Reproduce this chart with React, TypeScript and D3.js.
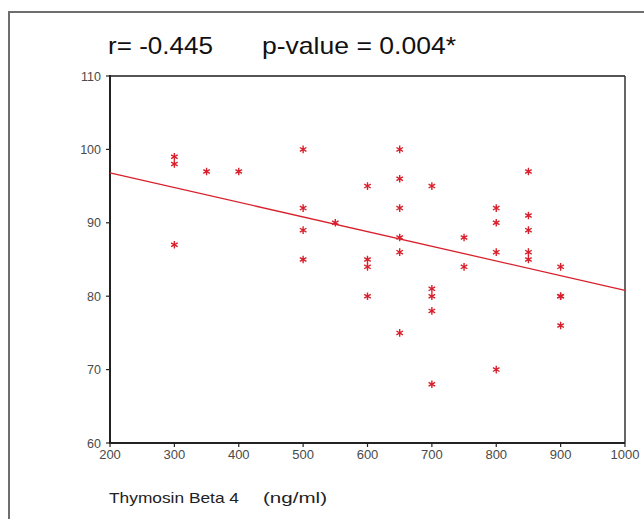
import * as d3 from 'd3';

// x = Thymosin Beta 4 (ng/ml), y = value
const xValues = [
  300, 300, 300,
  350,
  400,
  500, 500, 500, 500,
  550,
  600, 600, 600, 600,
  650, 650, 650, 650, 650, 650,
  700, 700, 700, 700, 700,
  750, 750,
  800, 800, 800, 800,
  850, 850, 850, 850, 850,
  900, 900, 900, 900,
];
const yValues = [
  99, 98, 87,
  97,
  97,
  100, 92, 89, 85,
  90,
  95, 85, 84, 80,
  100, 96, 92, 88, 86, 75,
  95, 81, 80, 78, 68,
  88, 84,
  92, 90, 86, 70,
  97, 91, 89, 86, 85,
  84, 80, 80, 76,
];

// fitted line end points
const fitX = [200, 1000];
const fitY = [96.8, 80.8];

const xTicks = [200, 300, 400, 500, 600, 700, 800, 900, 1000];
const yTicks = [60, 70, 80, 90, 100, 110];

const statR = 'r= -0.445';
const statP = 'p-value = 0.004*';
const xLabel = 'Thymosin Beta 4';
const xUnit = '(ng/ml)';

export default function App() {
  const width = 644;
  const height = 519;
  const left = 110;
  const right = 625;
  const top = 76;
  const bottom = 443;

  const x = d3.scaleLinear().domain([200, 1000]).range([left, right]);
  const y = d3.scaleLinear().domain([60, 110]).range([bottom, top]);

  const star = d3.symbol().type(d3.symbolAsterisk).size(40);
  const fit = d3
    .line<number>()
    .x((_, i) => x(fitX[i]))
    .y((v) => y(v));

  const red = '#d8202c';
  const font = 'Arial, "Liberation Sans", sans-serif';

  return (
    <svg
      width={width}
      height={height}
      viewBox={`0 0 ${width} ${height}`}
      style={{ position: 'absolute', left: 0, top: 0, background: '#fff' }}
      fontFamily={font}
    >
      {/* outer frame */}
      <path d={`M9,${height} V12 H${width}`} fill="none" stroke="#6e6e6e" strokeWidth={2} />

      <text x={108} y={54} fontSize={24} fill="#111" textLength={105} lengthAdjust="spacingAndGlyphs">
        {statR}
      </text>
      <text x={262} y={54} fontSize={24} fill="#111" textLength={194} lengthAdjust="spacingAndGlyphs">
        {statP}
      </text>

      {/* plot box */}
      <line x1={left} x2={right} y1={top} y2={top} stroke="#555" strokeWidth={2} />
      <line x1={right} x2={right} y1={top} y2={bottom} stroke="#333" strokeWidth={1.5} />
      <line x1={left} x2={left} y1={top - 1} y2={bottom + 1} stroke="#222" strokeWidth={2} />
      <line x1={left - 1} x2={right} y1={bottom} y2={bottom} stroke="#222" strokeWidth={2} />

      {yTicks.map((t) => (
        <g key={t} transform={`translate(0,${y(t)})`}>
          <line x1={left - 4} x2={left} stroke="#222" strokeWidth={1.2} />
          <text x={101} y={4.5} textAnchor="end" fontSize={12.5} fill="#4a4a4a">
            {t}
          </text>
        </g>
      ))}
      {xTicks.map((t) => (
        <g key={t} transform={`translate(${x(t)},0)`}>
          <line y1={bottom} y2={bottom + 4} stroke="#222" strokeWidth={1.2} />
          <text y={bottom + 16} textAnchor="middle" fontSize={13} fill="#4a4a4a">
            {t}
          </text>
        </g>
      ))}

      <path d={fit(fitY) ?? ''} fill="none" stroke={red} strokeWidth={1.3} />

      {xValues.map((xv, i) => (
        <path
          key={i}
          d={star() ?? ''}
          transform={`translate(${x(xv)},${y(yValues[i])})`}
          fill="none"
          stroke={red}
          strokeWidth={1.4}
        />
      ))}

      <text x={109} y={503} fontSize={15} fill="#222" textLength={130} lengthAdjust="spacingAndGlyphs">
        {xLabel}
      </text>
      <text x={263} y={503} fontSize={15} fill="#222" textLength={64} lengthAdjust="spacingAndGlyphs">
        {xUnit}
      </text>
    </svg>
  );
}
